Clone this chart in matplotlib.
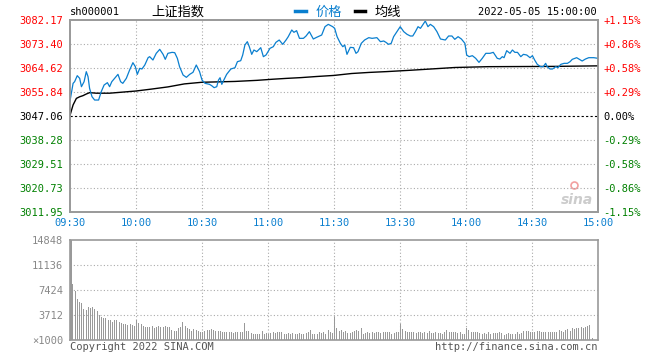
import numpy as np
import matplotlib
matplotlib.use("Agg")
import matplotlib.pyplot as plt
from matplotlib.lines import Line2D

plt.rcParams['font.family'] = ['DejaVu Sans Mono', 'Noto Sans CJK SC']

W, H = 660, 360
pre_close = 3047.06

# price levels / labels (left and right)
price_levels = [3011.95, 3020.73, 3029.51, 3038.28, 3047.06, 3055.84, 3064.62, 3073.40, 3082.17]
pct_labels = ["-1.15%", "-0.86%", "-0.58%", "-0.29%", "0.00%", "+0.29%", "+0.58%", "+0.86%", "+1.15%"]
time_labels = ["09:30", "10:00", "10:30", "11:00", "11:30", "13:30", "14:00", "14:30", "15:00"]
vol_levels = [0, 3712, 7424, 11136, 14848]
vol_labels = ["×1000", "3712", "7424", "11136", "14848"]

# minute index (0 = 09:30, 120 = 11:30/13:00, 240 = 15:00) and price
price_min = [0, 1.4, 2.1, 3.3, 4.4, 5.2, 6.4, 7.4, 8.2, 8.9, 10, 11.2, 13, 14.2, 15.5, 17, 18, 19,
             20.3, 21.8, 23, 24, 25.6, 27.1, 28.6, 29.7, 30.6, 31.7, 32.7, 34, 35.5, 36.2, 37.7,
             39.2, 40.8, 42.3, 43.3, 44.5, 46.4, 47.6, 48.8, 49.8, 51.4, 52.9, 54.4, 55.9, 57.4,
             58.9, 60, 61.4, 63.4, 64.4, 65.5, 66.7, 67.5, 68.2, 69, 69.7, 71.2, 73.1, 75, 76.1,
             77.6, 78.5, 79.5, 80.6, 81.5, 82.6, 83.6, 84.9, 86.7, 87.9, 89.1, 90.9, 92.4, 93.6,
             95.1, 96.7, 98.2, 99.2, 100.8, 101.8, 103, 104.3, 106.1, 107.3, 108.8, 110.6, 112.1,
             114.4, 115.9, 117.4, 119.4, 120.3, 121.4, 122.9, 124, 124.9, 125.9, 127.4, 128.9,
             130, 130.9, 132.4, 133.9, 135.8, 137.3, 139.5, 141.1, 142.6, 143.6, 144.8, 146,
             147.1, 148.6, 150.1, 151.7, 153.2, 154.7, 155.8, 157, 158.2, 159.3, 160.3, 161.5,
             162.7, 163.8, 165.3, 166.8, 168.4, 170.6, 172.1, 173.6, 174.9, 176.4, 177.9, 179.5,
             180.3, 181.4, 182.9, 184.4, 185.9, 187.4, 189, 190.9, 192.4, 194.2, 195.4, 196.5,
             197.3, 198.5, 200, 201.1, 202.2, 203.4, 204.9, 206.1, 207.6, 209.1, 210.2, 211.2,
             212.4, 213.9, 215.1, 216.2, 216.9, 218.2, 219.3, 220.8, 221.8, 223.1, 224.6, 226.1,
             227.3, 228.3, 230.3, 231.3, 232.8, 234.3, 235.8, 238.1, 240]
price = [3052.54, 3059.00, 3059.61, 3061.81, 3060.83, 3057.78, 3059.61, 3063.27, 3061.44, 3057.17,
         3054.12, 3052.90, 3052.90, 3055.95, 3058.39, 3059.25, 3057.78, 3059.61, 3060.83, 3062.29,
         3059.61, 3059.00, 3060.83, 3063.88, 3066.56, 3065.10, 3062.29, 3064.49, 3064.25, 3065.71,
         3068.39, 3068.76, 3067.54, 3069.98, 3071.44, 3069.61, 3067.78, 3069.98, 3070.34, 3070.22,
         3068.15, 3065.10, 3062.05, 3061.20, 3062.29, 3063.03, 3065.71, 3063.27, 3060.22, 3059.00,
         3058.64, 3058.15, 3057.42, 3057.78, 3060.22, 3061.07, 3058.64, 3059.85, 3062.29, 3064.24,
         3064.73, 3066.93, 3067.29, 3069.37, 3073.02, 3074.24, 3072.41, 3069.61, 3071.20, 3070.59,
         3072.05, 3068.76, 3069.37, 3071.81, 3072.41, 3074.00, 3074.85, 3073.27, 3074.85, 3076.07,
         3078.51, 3077.66, 3078.27, 3075.46, 3075.46, 3076.32, 3077.90, 3075.22, 3075.83, 3076.68,
         3079.73, 3080.58, 3079.73, 3079.12, 3076.07, 3073.63, 3072.41, 3073.02, 3069.61, 3072.17,
         3072.05, 3069.98, 3070.59, 3073.63, 3074.85, 3075.71, 3075.46, 3075.71, 3074.24, 3074.49,
         3074.00, 3073.27, 3073.63, 3076.07, 3077.90, 3079.73, 3077.90, 3076.93, 3076.32, 3076.32,
         3077.90, 3079.73, 3079.12, 3080.34, 3081.80, 3079.73, 3080.58, 3079.73, 3077.90, 3075.22,
         3074.85, 3076.32, 3076.32, 3075.10, 3076.07, 3075.22, 3073.63, 3069.37, 3068.76, 3069.12,
         3068.15, 3066.68, 3068.15, 3069.98, 3069.98, 3070.34, 3068.15, 3067.90, 3068.76, 3068.39,
         3070.95, 3069.98, 3071.20, 3070.34, 3070.34, 3068.76, 3069.61, 3069.37, 3068.39, 3069.12,
         3067.54, 3065.95, 3065.10, 3065.10, 3066.32, 3065.10, 3064.24, 3064.24, 3065.10, 3064.73,
         3065.95, 3066.32, 3066.32, 3066.93, 3067.78, 3068.39, 3067.90, 3067.17, 3067.90, 3068.39,
         3068.39, 3068.15]

# average price line
avg_min = [0, 1.4, 2.9, 4.4, 5.9, 7.4, 8.9, 12, 18, 24, 30, 37, 44.5, 52, 60, 75, 85, 92, 98,
           105, 112, 120, 128, 136, 144, 155, 165, 175, 190, 220, 240]
avg_price = [3047.3, 3051.1, 3053.5, 3054.1, 3054.5, 3055.1, 3055.6, 3055.4, 3055.4, 3055.8,
             3056.2, 3056.9, 3057.7, 3058.8, 3059.4, 3059.7, 3060.1, 3060.5, 3060.8, 3061.1,
             3061.5, 3061.9, 3062.6, 3063.0, 3063.3, 3063.8, 3064.3, 3064.8, 3065.1, 3065.2,
             3065.4]

# per-minute volume (x1000)
volume = [14848,
          8366, 7221, 6125, 5627, 5478, 4631, 4482, 4831, 4731, 4930,
          4631, 4333, 3735, 3486, 3337, 3337, 2988, 2988, 2739, 2988,
          2988, 2739, 2490, 2390, 2390, 2241, 2390, 2241, 2141, 2988,
          2490, 2340, 2092, 1992, 1992, 1992, 2141, 1743, 1992, 2141,
          1992, 1992, 2141, 1992, 1992, 1494, 1345, 1345, 1843, 1992,
          2741, 2141, 1843, 1643, 1345, 1643, 1494, 1345, 1145, 1145,
          1345, 1494, 1494, 1643, 1494, 1345, 1345, 1345, 1245, 1145,
          1145, 1145, 1245, 996, 1145, 1145, 1145, 1245, 2490, 1345,
          1345, 996, 946, 946, 946, 946, 1345, 847, 996, 847,
          996, 1145, 996, 1145, 1145, 1145, 946, 946, 1046, 946,
          996, 946, 946, 996, 946, 946, 1046, 1145, 1444, 847,
          847, 946, 1245, 996, 1145, 896, 1494, 1145, 996, 3486,
          1843, 1345, 1494, 1145, 1345, 996, 996, 1245, 1345, 1494,
          1345, 1743, 946, 996, 1145, 996, 1145, 996, 1245, 1145,
          996, 1245, 1145, 1145, 1145, 946, 996, 1145, 1145, 2340,
          1643, 1345, 1245, 1145, 1245, 1145, 996, 1145, 1145, 1096,
          1145, 996, 1345, 1046, 996, 1145, 996, 1096, 896, 1145,
          1494, 1145, 1145, 1145, 1145, 996, 1245, 946, 946, 1743,
          1494, 1245, 1245, 1245, 1245, 996, 946, 996, 847, 1145,
          946, 1096, 1096, 996, 1145, 996, 747, 946, 996, 946,
          946, 946, 1145, 946, 996, 1345, 1345, 1345, 1245, 1245,
          1145, 1345, 1345, 1145, 1245, 1245, 1245, 1245, 1245, 1245,
          1245, 1494, 1345, 1145, 1494, 1643, 1345, 1743, 1643, 1743,
          1843, 1992, 1843, 1992, 2141, 2241, 249, 0, 0, 0]

RED = "#ff0000"
GREEN = "#008000"
BLUE = "#0a7fcf"
GRID = "#aaaaaa"
BORDER = "#999999"


def fx(x):
    return x / W


def fy(y):
    return 1 - y / H


fig = plt.figure(figsize=(W / 100, H / 100), dpi=100)
fig.patch.set_facecolor("white")

ax = fig.add_axes([fx(70), fy(212), 528 / W, 192 / H])
axv = fig.add_axes([fx(70), fy(340), 528 / W, 100 / H])

# ---- price panel ----
ax.set_xlim(0, 240)
ax.set_ylim(price_levels[0], price_levels[-1])
for lv in price_levels[1:-1]:
    if lv == pre_close:
        continue
    ax.axhline(lv, color=GRID, lw=0.8, ls=(0, (1, 2)), zorder=1)
for xm in range(30, 240, 30):
    ax.axvline(xm, color=GRID, lw=0.8, ls=(0, (1, 2)), zorder=1)
ax.axhline(pre_close, color="black", lw=0.8, ls=(0, (2, 2)), zorder=2)

ax.plot(avg_min, avg_price, color="black", lw=1.0, zorder=3)
ax.plot(price_min, price, color=BLUE, lw=0.9, zorder=4)

ax.set_yticks(price_levels)
ax.set_yticklabels(["%.2f" % v for v in price_levels], fontsize=7.5)
for lbl, v in zip(ax.get_yticklabels(), price_levels):
    lbl.set_color(RED if v > pre_close else (GREEN if v < pre_close else "black"))
ax.tick_params(axis="y", length=0, pad=5)

ax.set_xticks(range(0, 241, 30))
ax.set_xticklabels(time_labels, fontsize=7.5, color=BLUE)
ax.tick_params(axis="x", length=0, pad=4)

axr = ax.twinx()
axr.set_ylim(ax.get_ylim())
axr.set_yticks(price_levels)
axr.set_yticklabels(pct_labels, fontsize=7.5)
for lbl, v in zip(axr.get_yticklabels(), price_levels):
    lbl.set_color(RED if v > pre_close else (GREEN if v < pre_close else "black"))
axr.tick_params(axis="y", length=0, pad=4)

for a in (ax, axr):
    for s in a.spines.values():
        s.set_color(BORDER)
        s.set_linewidth(1.2)

# sina watermark
ax.text(238, 3016.5, "sina", ha="right", va="center", fontsize=10, color="#cccccc",
        fontstyle="italic", fontweight="bold", family="DejaVu Sans", zorder=0)
ax.plot([229], [3022.0], marker="o", ms=5, mfc="none", mec="#f2a0a0", mew=1.2, zorder=0)

# ---- volume panel ----
axv.set_xlim(0, 240)
axv.set_ylim(0, vol_levels[-1])
for lv in vol_levels[1:-1]:
    axv.axhline(lv, color=GRID, lw=0.8, ls=(0, (1, 2)), zorder=1)
for xm in range(30, 240, 30):
    axv.axvline(xm, color=GRID, lw=0.8, ls=(0, (1, 2)), zorder=1)
vx = np.arange(len(volume))
widths = [1.0 if i == 0 else 0.45 for i in vx]
axv.bar(vx + 0.3, volume, width=widths, color="#999999", zorder=2, linewidth=0)
axv.set_yticks(vol_levels)
axv.set_yticklabels(vol_labels, fontsize=7.5, color="#888888")
axv.tick_params(axis="y", length=0, pad=5)
axv.set_xticks([])
for s in axv.spines.values():
    s.set_color(BORDER)
    s.set_linewidth(1.2)

# ---- header ----
fig.text(fx(70), fy(12), "sh000001", fontsize=7.5, ha="left", va="center", color="black")
fig.text(fx(151), fy(12), "上证指数", fontsize=9.5, ha="left", va="center", color="black",
         family=["Noto Sans CJK SC", "DejaVu Sans"])
fig.add_artist(Line2D([fx(295), fx(306)], [fy(11), fy(11)], color=BLUE, lw=2.5))
fig.text(fx(316), fy(12), "价格", fontsize=9.5, ha="left", va="center", color=BLUE,
         family=["Noto Sans CJK SC", "DejaVu Sans"])
fig.add_artist(Line2D([fx(355), fx(365)], [fy(11), fy(11)], color="black", lw=2.5))
fig.text(fx(375), fy(12), "均线", fontsize=9.5, ha="left", va="center", color="black",
         family=["Noto Sans CJK SC", "DejaVu Sans"])
fig.text(fx(597), fy(12), "2022-05-05 15:00:00", fontsize=7.5, ha="right", va="center",
         color="black")

# ---- footer ----
fig.text(fx(70), fy(347), "Copyright 2022 SINA.COM", fontsize=7.5, ha="left", va="center",
         color="#555555")
fig.text(fx(598), fy(347), "http://finance.sina.com.cn", fontsize=7.5, ha="right", va="center",
         color="#555555")

fig.savefig("out.png", dpi=100, facecolor="white")
